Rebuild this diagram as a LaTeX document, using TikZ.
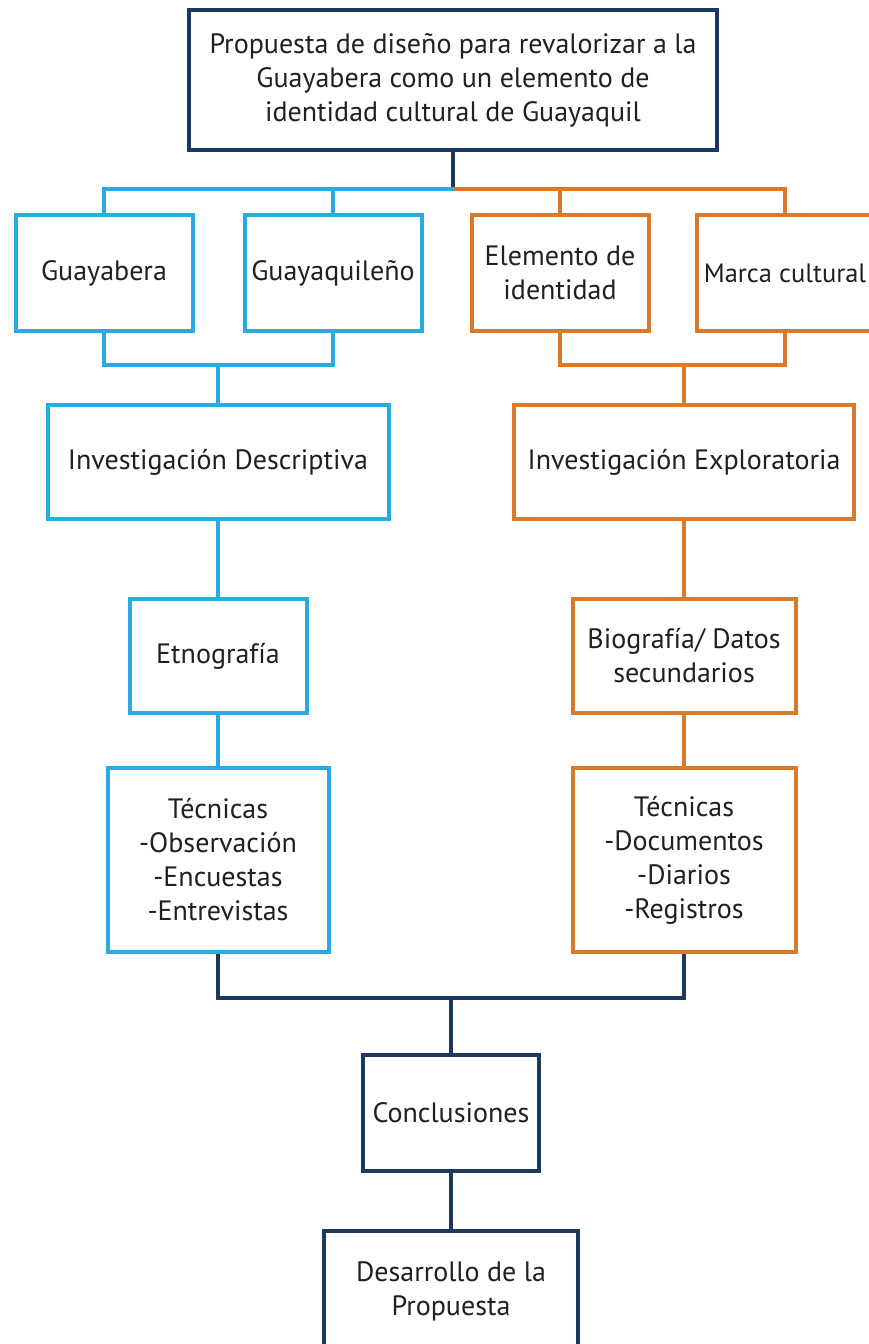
\documentclass[tikz,border=0pt]{standalone}
\usepackage{fontspec}
\setmainfont{PT Sans}
\definecolor{navy}{HTML}{1B3A5F}
\definecolor{celeste}{HTML}{29ABE2}
\definecolor{naranja}{HTML}{D97A2B}
\definecolor{texto}{HTML}{231F20}
\begin{document}
\begin{tikzpicture}[x=1pt,y=-1pt,line join=miter,
	caja/.style={draw,line width=4pt,fill=white,align=center,text=texto,
		font=\fontsize{28}{34}\selectfont,inner sep=0pt},
	azul/.style={caja,draw=celeste},
	ocre/.style={caja,draw=naranja},
	oscura/.style={caja,draw=navy},
	lazul/.style={celeste,line width=3.5pt},
	locre/.style={naranja,line width=3.5pt},
	lnavy/.style={navy,line width=3.5pt}]
	\useasboundingbox (0,0) rectangle (869,1344);
	\clip (0,0) rectangle (869,1344);
	% cajas
	\node[oscura,minimum width=528,minimum height=140] (prop) at (453,80)
		{Propuesta de diseño para revalorizar a la\\Guayabera como un elemento de\\identidad cultural de Guayaquil};
	\node[azul,minimum width=177,minimum height=116] (gya) at (104,273) {Guayabera};
	\node[azul,minimum width=177,minimum height=116] (gql) at (333,273) {Guayaquileño};
	\node[ocre,minimum width=177,minimum height=116] (ele) at (560,273) {Elemento de\\identidad};
	\node[ocre,minimum width=177,minimum height=116,font=\fontsize{26.5}{34}\selectfont] (mar) at (785,273) {Marca cultural};
	\node[azul,minimum width=341,minimum height=114] (idesc) at (218,462) {Investigación Descriptiva};
	\node[ocre,minimum width=340,minimum height=114] (iexp) at (684,462) {Investigación Exploratoria};
	\node[azul,minimum width=177,minimum height=114] (etno) at (218,656) {Etnografía};
	\node[ocre,minimum width=223,minimum height=114] (bio) at (684,656) {Biografía/ Datos\\secundarios};
	\node[azul,minimum width=221,minimum height=184] (tecb) at (218,860)
		{Técnicas\\-Observación\\-Encuestas\\-Entrevistas};
	\node[ocre,minimum width=223,minimum height=184] (teco) at (684,860)
		{Técnicas\\-Documentos\\-Diarios\\-Registros};
	\node[oscura,minimum width=176,minimum height=116] (concl) at (451,1113) {Conclusiones};
	\node[oscura,minimum width=254,minimum height=120] (desa) at (451,1291) {Desarrollo de la\\Propuesta};
	% uniones
	\coordinate (jtop) at (453,189);
	\coordinate (jazul) at (218,365);
	\coordinate (jocre) at (684,365);
	\coordinate (jbot) at (451,998);
	\draw[lnavy] (prop.south) -- (jtop);
	\draw[lazul] (jtop) -| (gya.north);
	\draw[lazul] (jtop) -| (gql.north);
	\draw[locre] (jtop) -| (ele.north);
	\draw[locre] (jtop) -| (mar.north);
	\draw[lazul] (gya.south) |- (jazul);
	\draw[lazul] (gql.south) |- (jazul);
	\draw[lazul] (jazul) -- (idesc.north);
	\draw[locre] (ele.south) |- (jocre);
	\draw[locre] (mar.south) |- (jocre);
	\draw[locre] (jocre) -- (iexp.north);
	\draw[lazul] (idesc.south) -- (etno.north);
	\draw[lazul] (etno.south) -- (tecb.north);
	\draw[locre] (iexp.south) -- (bio.north);
	\draw[locre] (bio.south) -- (teco.north);
	\draw[lnavy] (tecb.south) |- (jbot);
	\draw[lnavy] (teco.south) |- (jbot);
	\draw[lnavy] (jbot) -- (concl.north);
	\draw[lnavy] (concl.south) -- (desa.north);
\end{tikzpicture}
\end{document}
